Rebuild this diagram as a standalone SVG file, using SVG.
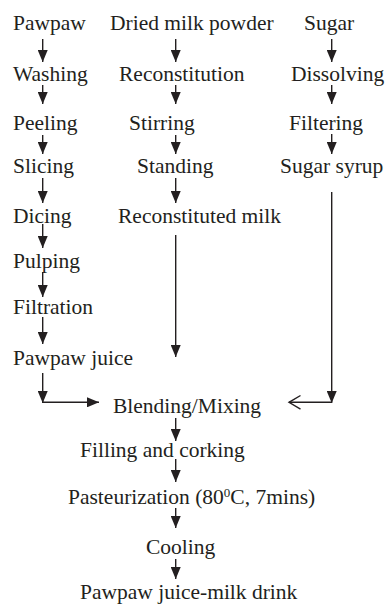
<svg xmlns="http://www.w3.org/2000/svg" width="387" height="604" viewBox="0 0 387 604">
<style>
text{font-family:"Liberation Serif","Times New Roman",serif;font-size:21.5px;fill:#231f20}
.c line,.c path{stroke:#231f20;stroke-width:1.4;fill:none}
.a{marker-end:url(#ah)}
</style>
<defs>
<marker id="ah" markerUnits="userSpaceOnUse" markerWidth="12" markerHeight="10" refX="12" refY="5" orient="auto" viewBox="0 0 12 10">
<path d="M0,0 L12,5 L0,10 z" fill="#231f20"/>
</marker>
</defs>
<rect width="387" height="604" fill="#fff"/>
<g id="n-pawpaw"><text x="13" y="30">Pawpaw</text></g>
<g id="n-washing"><text x="13" y="81">Washing</text></g>
<g id="n-peeling"><text x="13" y="130">Peeling</text></g>
<g id="n-slicing"><text x="13" y="173">Slicing</text></g>
<g id="n-dicing"><text x="13" y="223">Dicing</text></g>
<g id="n-pulping"><text x="13" y="268">Pulping</text></g>
<g id="n-filtration"><text x="13" y="314">Filtration</text></g>
<g id="n-juice"><text x="13" y="365">Pawpaw juice</text></g>
<g id="n-milkpowder"><text x="110" y="30">Dried milk powder</text></g>
<g id="n-reconstitution"><text x="119" y="81">Reconstitution</text></g>
<g id="n-stirring"><text x="129" y="130">Stirring</text></g>
<g id="n-standing"><text x="137" y="173">Standing</text></g>
<g id="n-recmilk"><text x="118" y="223">Reconstituted milk</text></g>
<g id="n-sugar"><text x="304" y="30">Sugar</text></g>
<g id="n-dissolving"><text x="291" y="81">Dissolving</text></g>
<g id="n-filtering"><text x="289" y="130">Filtering</text></g>
<g id="n-syrup"><text x="280" y="173">Sugar syrup</text></g>
<g id="n-blending"><text x="113" y="413">Blending/Mixing</text></g>
<g id="n-filling"><text x="80" y="457">Filling and corking</text></g>
<g id="n-pasteurization"><text x="68" y="504">Pasteurization (80<tspan dy="-7" font-size="13">0</tspan><tspan dy="7">C, 7mins)</tspan></text></g>
<g id="n-cooling"><text x="146" y="554">Cooling</text></g>
<g id="n-drink"><text x="80" y="598.5">Pawpaw juice-milk drink</text></g>
<g id="connectors" class="c">
<line class="a" x1="42.7" y1="39" x2="42.7" y2="62"/>
<line class="a" x1="42.7" y1="85" x2="42.7" y2="104"/>
<line class="a" x1="42.7" y1="135" x2="42.7" y2="154"/>
<line class="a" x1="42.7" y1="178" x2="42.7" y2="203"/>
<line class="a" x1="42.7" y1="224" x2="42.7" y2="248"/>
<line class="a" x1="42.7" y1="272" x2="42.7" y2="297"/>
<line class="a" x1="42.7" y1="317" x2="42.7" y2="344"/>
<line class="a" x1="42.7" y1="373" x2="42.7" y2="403"/>
<line class="a" x1="42.7" y1="402.3" x2="99" y2="402.3"/>
<line class="a" x1="175.7" y1="39" x2="175.7" y2="62"/>
<line class="a" x1="175.7" y1="85" x2="175.7" y2="104"/>
<line class="a" x1="175.7" y1="135" x2="175.7" y2="154"/>
<line class="a" x1="175.7" y1="178" x2="175.7" y2="203"/>
<line class="a" x1="175.7" y1="235" x2="175.7" y2="357"/>
<line class="a" x1="331.7" y1="39" x2="331.7" y2="62"/>
<line class="a" x1="331.7" y1="85" x2="331.7" y2="104"/>
<line class="a" x1="331.7" y1="134" x2="331.7" y2="154"/>
<line class="a" x1="331.7" y1="192" x2="331.7" y2="403"/>
<line x1="331.7" y1="402.3" x2="289" y2="402.3"/>
<path d="M300.5,395.5 L289,402.3 L300.5,409.1"/>
<line class="a" x1="175.7" y1="418" x2="175.7" y2="441"/>
<line class="a" x1="175.7" y1="459" x2="175.7" y2="482"/>
<line class="a" x1="175.7" y1="508" x2="175.7" y2="528"/>
<line class="a" x1="175.7" y1="559" x2="175.7" y2="579"/>
</g>
</svg>
